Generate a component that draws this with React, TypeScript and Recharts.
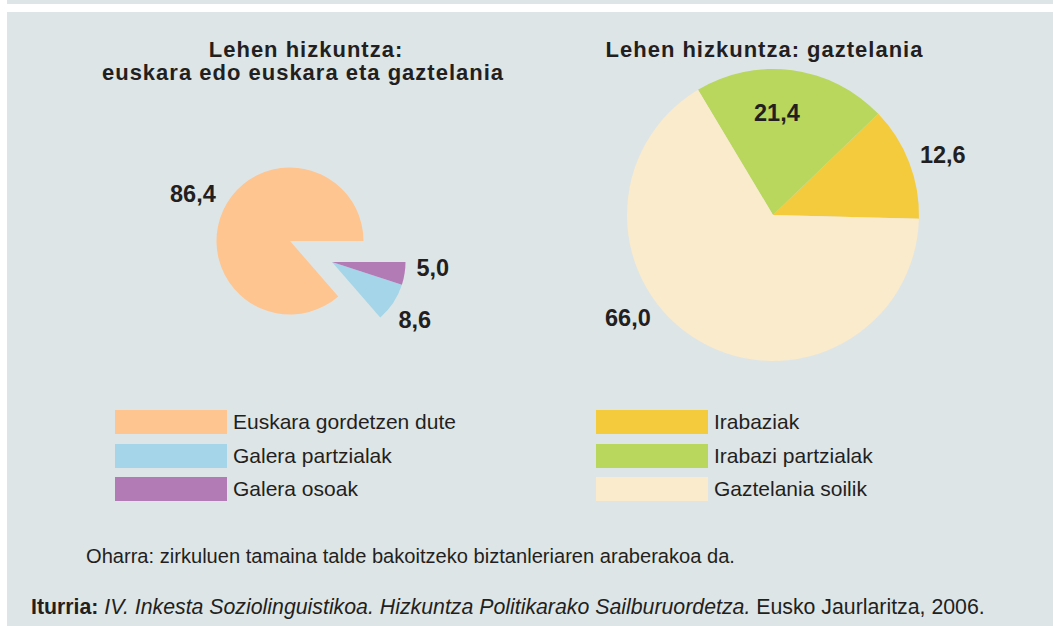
import React from 'react';
import { PieChart, Pie, Cell } from 'recharts';

// ---- data ----
const leftCategories = ['Euskara gordetzen dute', 'Galera partzialak', 'Galera osoak'];
const leftValues = [86.4, 8.6, 5.0];
const rightCategories = ['Irabaziak', 'Irabazi partzialak', 'Gaztelania soilik'];
const rightValues = [12.6, 21.4, 66.0];
const leftTitleLines = ['Lehen hizkuntza:', 'euskara edo euskara eta gaztelania'];
const rightTitle = 'Lehen hizkuntza: gaztelania';
const noteText = 'Oharra: zirkuluen tamaina talde bakoitzeko biztanleriaren araberakoa da.';
const sourceLabel = 'Iturria:';
const sourceTitle = 'IV. Inkesta Soziolinguistikoa. Hizkuntza Politikarako Sailburuordetza.';
const sourceRest = ' Eusko Jaurlaritza, 2006.';

// ---- styles ----
const leftColors = ['#FEC590', '#A4D5E8', '#B37BB5'];
const rightColors = ['#F4CB3C', '#B9D75C', '#F9EBCB'];
const BG = '#DEE5E7';
const TEXT = '#231F20';
const FONT = '"Liberation Sans", Arial, Helvetica, sans-serif';

const leftData = leftCategories.map((name, i) => ({ name, value: leftValues[i] }));
const rightData = rightCategories.map((name, i) => ({ name, value: rightValues[i] }));

const fmt = (v: number) => v.toFixed(1).replace('.', ',');
const RAD = Math.PI / 180;

type Place = { angle: number; r: number };

function makeLabel(visible: number[], placement: Record<number, Place>) {
  return (props: any) => {
    const { cx, cy, index } = props;
    if (!visible.includes(index)) return null;
    const p = placement[index];
    const v = typeof props.value === 'number' ? props.value : props.payload?.value;
    const x = cx + p.r * Math.cos(p.angle * RAD);
    const y = cy - p.r * Math.sin(p.angle * RAD);
    return (
      <text
        key={`lbl-${index}`}
        x={x}
        y={y}
        textAnchor="middle"
        dominantBaseline="central"
        fill={TEXT}
        style={{ fontFamily: FONT, fontWeight: 700, fontSize: 23.5 }}
      >
        {fmt(v)}
      </text>
    );
  };
}

const leftMainLabel = makeLabel([0], { 0: { angle: 154, r: 108 } });
const leftExplLabel = makeLabel([1, 2], { 1: { angle: 325, r: 101 }, 2: { angle: 356.6, r: 101 } });
const rightLabel = makeLabel([0, 1, 2], {
  0: { angle: 19.4, r: 180 },
  1: { angle: 87.8, r: 102 },
  2: { angle: 215.4, r: 178 },
});

function LegendBlock({ x, y, names, colors }: { x: number; y: number; names: string[]; colors: string[] }) {
  return (
    <>
      {names.map((n, i) => (
        <div key={n} style={{ position: 'absolute', left: x, top: y + i * 33.5, height: 24, display: 'flex', alignItems: 'center' }}>
          <div style={{ width: 112, height: 24, background: colors[i] }} />
          <div style={{ marginLeft: 6, fontSize: 21, lineHeight: '24px', color: TEXT, whiteSpace: 'nowrap', fontFamily: FONT }}>{n}</div>
        </div>
      ))}
    </>
  );
}

export default function App() {
  return (
    <div
      style={{
        position: 'absolute',
        left: 0,
        top: 0,
        width: 1053,
        height: 626,
        background: '#FFFFFF',
        overflow: 'hidden',
        fontFamily: FONT,
      }}
    >
      <div style={{ position: 'absolute', left: 7, top: 0, width: 1046, height: 4, background: BG }} />
      <div style={{ position: 'absolute', left: 7, top: 12, width: 1046, height: 614, background: BG }} />

      <div style={{ position: 'absolute', left: 0, top: 0 }}>
        <PieChart width={1053} height={626} margin={{ top: 0, right: 0, bottom: 0, left: 0 }}>
          <Pie
            data={leftData}
            dataKey="value"
            nameKey="name"
            cx={290}
            cy={241}
            outerRadius={73.5}
            startAngle={0}
            endAngle={360}
            stroke="none"
            isAnimationActive={false}
            label={leftMainLabel}
            labelLine={false}
          >
            {leftData.map((d, i) => (
              <Cell key={d.name} fill={i === 0 ? leftColors[i] : 'transparent'} stroke="none" />
            ))}
          </Pie>
          <Pie
            data={leftData}
            dataKey="value"
            nameKey="name"
            cx={332}
            cy={262}
            outerRadius={73.5}
            startAngle={0}
            endAngle={360}
            stroke="none"
            isAnimationActive={false}
            label={leftExplLabel}
            labelLine={false}
          >
            {leftData.map((d, i) => (
              <Cell key={d.name} fill={i === 0 ? 'transparent' : leftColors[i]} stroke="none" />
            ))}
          </Pie>
          <Pie
            data={rightData}
            dataKey="value"
            nameKey="name"
            cx={773}
            cy={215}
            outerRadius={146}
            startAngle={-1.5}
            endAngle={358.5}
            stroke="none"
            isAnimationActive={false}
            label={rightLabel}
            labelLine={false}
          >
            {rightData.map((d, i) => (
              <Cell key={d.name} fill={rightColors[i]} stroke="none" />
            ))}
          </Pie>
        </PieChart>
      </div>

      <svg
        width={1053}
        height={626}
        style={{ position: 'absolute', left: 0, top: 0, pointerEvents: 'none' }}
      >
        <g style={{ fontFamily: FONT, fontWeight: 700, fontSize: 22, letterSpacing: 1 }} fill={TEXT}>
          <text x={306} y={57.3} textAnchor="middle">{leftTitleLines[0]}</text>
          <text x={303} y={80} textAnchor="middle">{leftTitleLines[1]}</text>
          <text x={764.5} y={56.7} textAnchor="middle">{rightTitle}</text>
        </g>
        <text x={86} y={562.7} fill={TEXT} style={{ fontFamily: FONT, fontSize: 20.1 }}>{noteText}</text>
        <text x={31} y={614} fill={TEXT} style={{ fontFamily: FONT, fontSize: 21.3 }}>
          <tspan fontWeight={700}>{sourceLabel}</tspan>
          <tspan fontStyle="italic">{' ' + sourceTitle}</tspan>
          <tspan>{sourceRest}</tspan>
        </text>
      </svg>

      <LegendBlock x={115} y={410} names={leftCategories} colors={leftColors} />
      <LegendBlock x={596} y={410} names={rightCategories} colors={rightColors} />
    </div>
  );
}
